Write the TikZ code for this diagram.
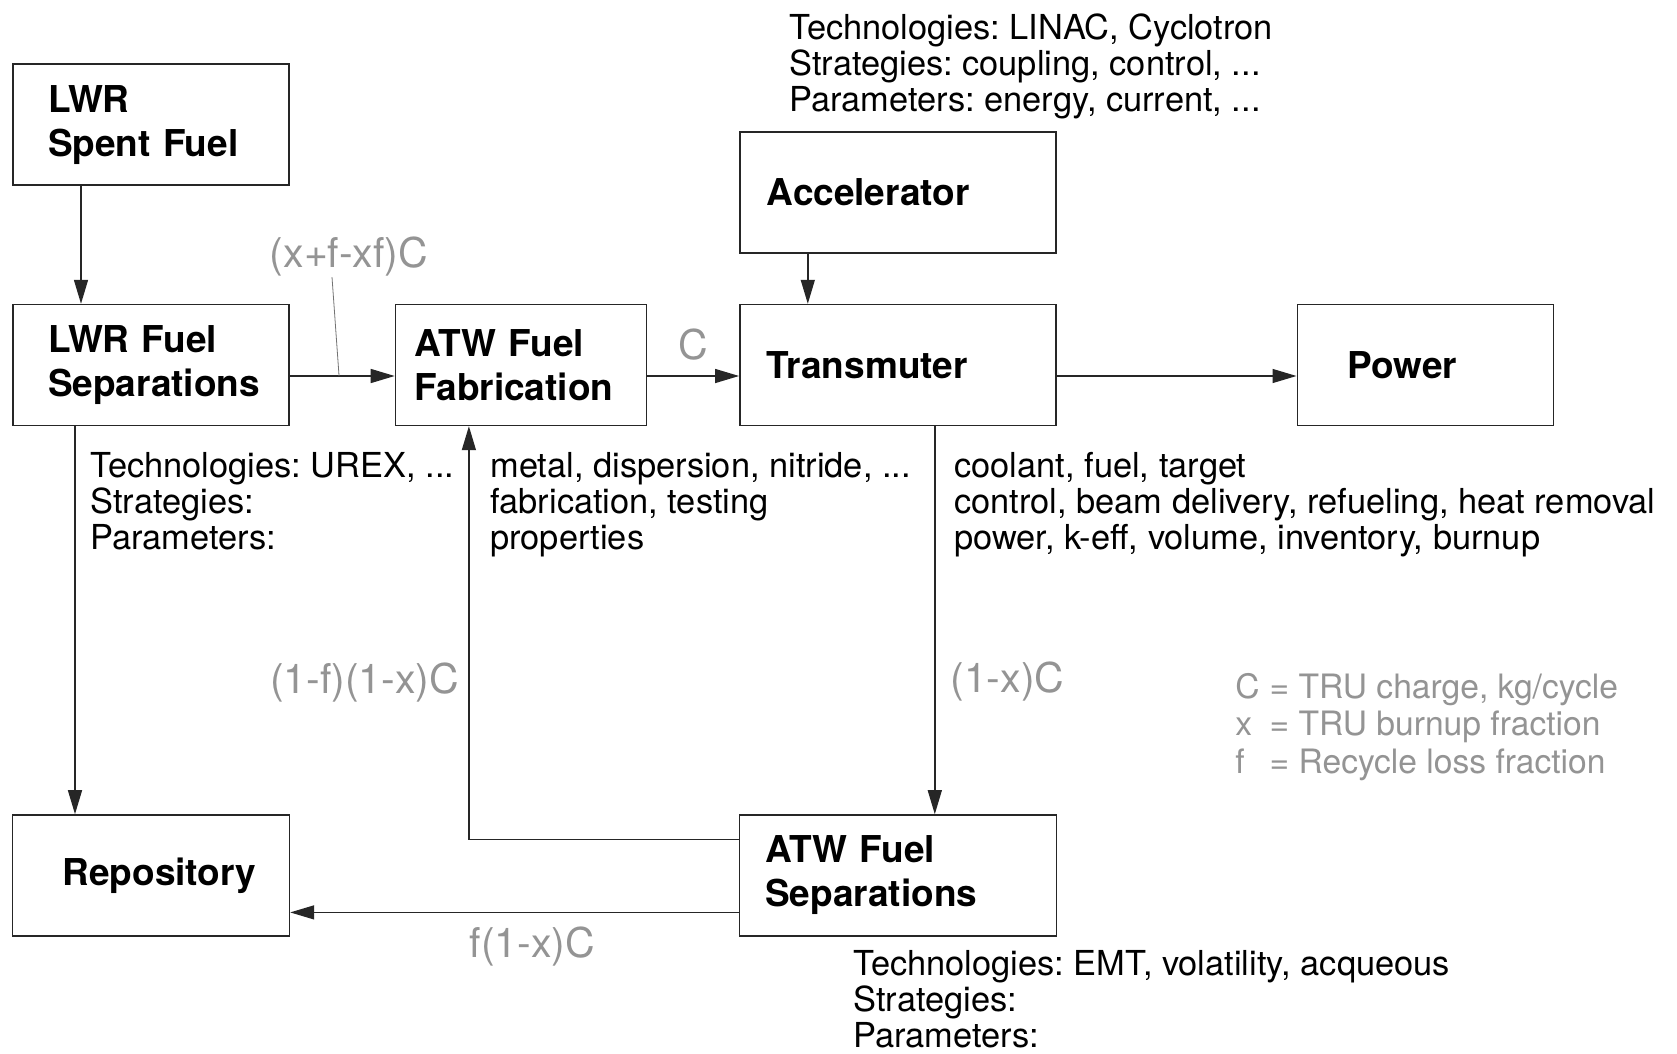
\documentclass[tikz,border=0pt]{standalone}
\usepackage{fontspec}
\setmainfont{TeX Gyre Heros}
\usetikzlibrary{shapes,arrows.meta,positioning}
\frenchspacing

\newcommand{\boxfont}{\bfseries\fontsize{18.5}{22}\selectfont}
\newcommand{\infofont}{\fontsize{17.2}{18}\selectfont}
\newcommand{\flowfont}{\fontsize{20.5}{24}\selectfont}
\newcommand{\keyfont}{\fontsize{16.8}{18.7}\selectfont}

\begin{document}
\begin{tikzpicture}[x=0.5pt, y=-0.5pt]

        % 样式
        \tikzstyle{block} = [rectangle, draw=black!85, line width=0.7pt, minimum height=60.5pt, align=left, inner sep=0pt, font=\boxfont]
        \tikzstyle{info} = [anchor=north west, align=left, inner sep=0pt, font=\infofont]
        \tikzstyle{flow} = [inner sep=0pt, text=black!42, font=\flowfont]
        \tikzstyle{arrow} = [line width=0.7pt, draw=black!85, -{Triangle[length=12pt,width=7pt]}]
        \tikzstyle{leader} = [line width=0.4pt, draw=black!55]

        \path[use as bounding box, fill=white] (0,0) rectangle (1677,1054);

        % 节点
        \node (lwrsep) [block, minimum width=138pt, text width=103pt] at (151,365) {LWR Fuel\\Separations};
        \node (spent) [block, minimum width=138pt, text width=103pt, above=59pt of lwrsep] {LWR\\Spent Fuel};
        \node (fab) [block, minimum width=125.5pt, text width=106.5pt, right=52.5pt of lwrsep] {ATW Fuel\\Fabrication};
        \node (trans) [block, minimum width=158pt, text width=131pt, right=46pt of fab] {Transmuter};
        \node (acc) [block, minimum width=158pt, text width=131pt, above=25pt of trans] {Accelerator};
        \node (power) [block, minimum width=128pt, text width=78pt, right=120pt of trans] {Power};
        \node (repo) [block, minimum width=138.5pt, text width=88.5pt, below=194pt of lwrsep] {Repository};
        \node (atwsep) [block, minimum width=158.5pt, text width=132.5pt, below=194pt of trans] {ATW Fuel\\Separations};

        % 说明文字
        \node (accinfo) [info] at (789,13) {Technologies: LINAC, Cyclotron\\Strategies: coupling, control, ...\\Parameters: energy, current, ...};
        \node (lwrinfo) [info] at (90,452) {Technologies: UREX, ...\\Strategies:\\Parameters:};
        \node (fabinfo) [info] at (490,452) {metal, dispersion, nitride, ...\\fabrication, testing\\properties};
        \node (transinfo) [info] at (954,452) {coolant, fuel, target\\control, beam delivery, refueling, heat removal\\power, k-eff, volume, inventory, burnup};
        \node (atwinfo) [info] at (853,950) {Technologies: EMT, volatility, acqueous\\Strategies:\\Parameters:};

        \node (key) [flow, font=\keyfont, anchor=north west] at (1235,672) {\begin{tabular}{@{}l@{\hspace{5pt}}l@{}}C & = TRU charge, kg/cycle\\x & = TRU burnup fraction\\f & = Recycle loss fraction\end{tabular}};
        \node (xfc) [flow] at (349,257) {(x+f-xf)C};

        % 连线
        \draw [arrow] ([xshift=-35pt]spent.south) -- ([xshift=-35pt]lwrsep.north);
        \draw [arrow] ([yshift=-5.5pt]lwrsep.east) -- coordinate[pos=0.47] (tap) ([yshift=-5.5pt]fab.west);
        \draw [leader] ([xshift=-8.5pt]xfc.south) -- (tap);
        \draw [arrow] ([yshift=-5.5pt]fab.east) -- node[flow, above=7.5pt] (lblc) {C} ([yshift=-5.5pt]trans.west);
        \draw [arrow] ([xshift=-45pt]acc.south) -- ([xshift=-45pt]trans.north);
        \draw [arrow] ([yshift=-5.5pt]trans.east) -- ([yshift=-5.5pt]power.west);
        \draw [arrow] ([xshift=18.5pt]trans.south) -- node[flow, right=7.5pt, pos=0.657] (lblx) {(1-x)C} ([xshift=18.5pt]atwsep.north);
        \draw [arrow] ([yshift=18pt]atwsep.west) -| node[flow, left=4.5pt, pos=0.69] (lblff) {(1-f)(1-x)C} ([xshift=-26pt]fab.south);
        \draw [arrow] ([yshift=-18.5pt]atwsep.west) -- node[flow, below=7pt, pos=0.46] (lblf) {f(1-x)C} ([yshift=-18.5pt]repo.east);
        \draw [arrow] ([xshift=-38pt]lwrsep.south) -- ([xshift=-38pt]repo.north);

\end{tikzpicture}
\end{document}
